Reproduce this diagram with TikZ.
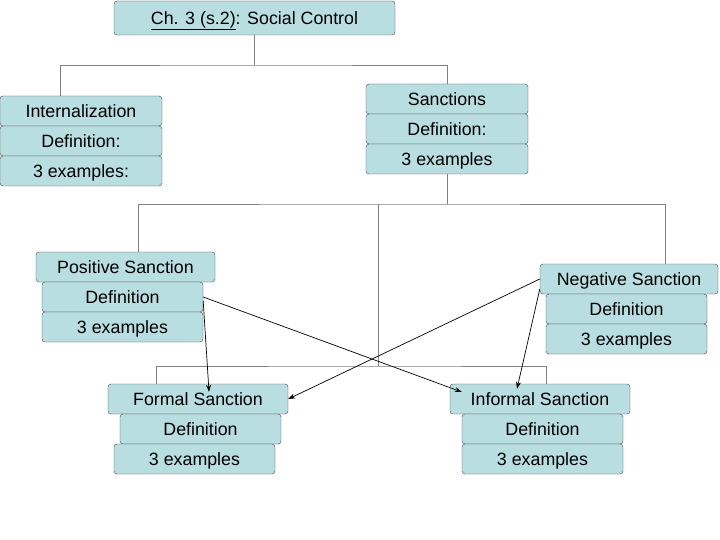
\documentclass[tikz,border=0pt]{standalone}
\usepackage{fontspec}
\setmainfont{Liberation Sans}
\usetikzlibrary{arrows.meta}
\definecolor{boxfill}{RGB}{185,222,225}
\definecolor{boxline}{RGB}{70,70,70}
\definecolor{treeline}{RGB}{128,128,128}
\tikzset{
  cell/.style={draw=boxline, fill=boxfill, rounded corners=3pt, inner sep=0pt,
    minimum height=30pt, text height=12.7pt, text depth=0pt,
    font=\fontsize{17.8}{20}\selectfont},
  tree/.style={draw=treeline, line width=0.9pt},
  link/.style={draw=black, line width=0.7pt, -{Stealth[length=7pt,width=5pt]}}
}
\begin{document}
\begin{tikzpicture}[x=1pt,y=1pt]
   \useasboundingbox (0,0) rectangle (720,-540);
   % top
   \node[cell, minimum width=281pt, minimum height=34pt] (title) at (254.5,-18) {\underline{Ch. 3 (s.2)}: Social Control};
   % second level
   \node[cell, minimum width=162pt] (intA) at (81,-111) {Internalization};
   \node[cell, minimum width=162pt] (intB) at (81,-141) {Definition:};
   \node[cell, minimum width=162pt] (intC) at (81,-171) {3 examples:};
   \node[cell, minimum width=162pt] (sanA) at (447,-99) {Sanctions};
   \node[cell, minimum width=162pt] (sanB) at (447,-129) {Definition:};
   \node[cell, minimum width=162pt] (sanC) at (447,-159) {3 examples};
   % third level
   \node[cell, minimum width=179pt] (posA) at (125.5,-267) {Positive Sanction};
   \node[cell, minimum width=161pt] (posB) at (122.5,-297) {Definition};
   \node[cell, minimum width=161pt] (posC) at (122.5,-327) {3 examples};
   \node[cell, minimum width=178pt] (negA) at (629,-279) {Negative Sanction};
   \node[cell, minimum width=161pt] (negB) at (626.5,-309) {Definition};
   \node[cell, minimum width=161pt] (negC) at (626.5,-339) {3 examples};
   % fourth level
   \node[cell, minimum width=180pt] (forA) at (198,-399) {Formal Sanction};
   \node[cell, minimum width=161pt] (forB) at (200.5,-429) {Definition};
   \node[cell, minimum width=161pt] (forC) at (194.5,-459) {3 examples};
   \node[cell, minimum width=180pt] (infA) at (540,-399) {Informal Sanction};
   \node[cell, minimum width=161pt] (infB) at (542.5,-429) {Definition};
   \node[cell, minimum width=161pt] (infC) at (542.5,-459) {3 examples};
   % tree
   \coordinate (busA) at (258,-65);
   \coordinate (busB) at (378,-204);
   \coordinate (busC) at (378,-366);
   \draw[tree] (title.south) -- (title.south |- busA);
   \draw[tree] ([xshift=-21pt]intA.north) |- (busA) -| (sanA.north);
   \draw[tree] (sanC.south) -- (sanC.south |- busB);
   \draw[tree] ([xshift=12.5pt]posA.north) |- (busB) -| ([xshift=36pt]negA.north);
   \draw[tree] (busB) -- (busC);
   \draw[tree] ([xshift=-42pt]forA.north) |- (busC) -| ([xshift=6pt]infA.north);
   % arrows
   \draw[link] (posB.east) -- ([shift={(12pt,7pt)}]infA.west);
   \draw[link] ([yshift=-4pt]posB.east) -- ([shift={(11pt,-8pt)}]forA.north);
   \draw[link] (negA.west) -- (forA.east);
   \draw[link] ([yshift=-10pt]negA.west) -- ([shift={(-23pt,-5pt)}]infA.north);
\end{tikzpicture}
\end{document}
